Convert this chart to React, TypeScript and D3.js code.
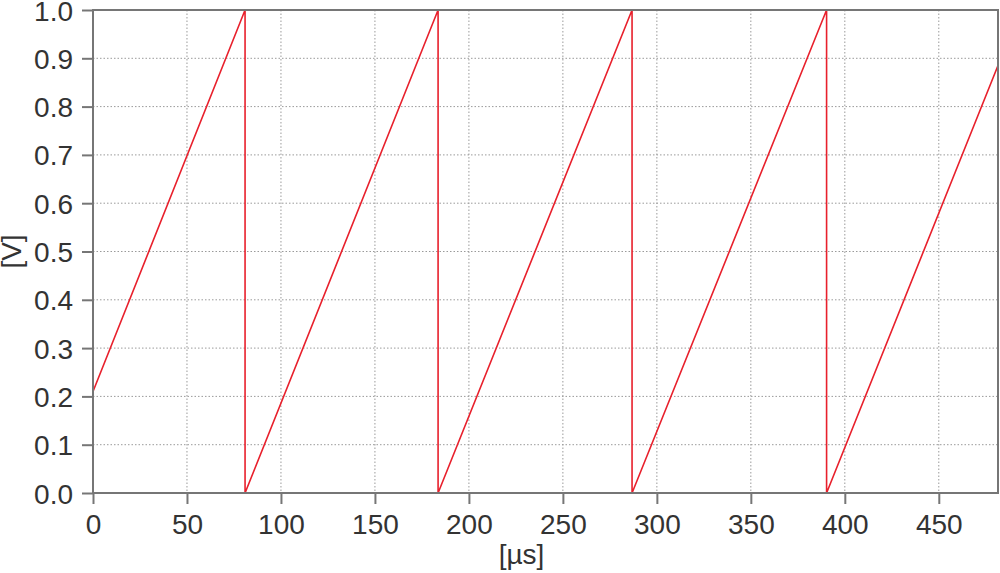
import { useEffect, useRef } from 'react';
import * as d3 from 'd3';

// sawtooth vertices
const times = [0, 80.9, 80.9, 183.6, 183.6, 286.8, 286.8, 390.3, 390.3, 481.5];
const volts = [0.21, 1.0, 0.0, 1.0, 0.0, 1.0, 0.0, 1.0, 0.0, 0.885];

const xTicks = [0, 50, 100, 150, 200, 250, 300, 350, 400, 450];
const yTicks = [0, 0.1, 0.2, 0.3, 0.4, 0.5, 0.6, 0.7, 0.8, 0.9, 1.0];

const xLabel = '[µs]';
const yLabel = '[V]';

const App = () => {
  const svgRef = useRef<SVGSVGElement>(null);

  useEffect(() => {
    const width = 1000;
    const height = 573;
    const margin = { top: 10, right: 2, bottom: 80, left: 93 };
    const w = width - margin.left - margin.right;
    const h = height - margin.top - margin.bottom;
    const font = '"Liberation Sans", Arial, sans-serif';

    d3.select(svgRef.current).selectAll('*').remove();

    const svg = d3.select(svgRef.current)
      .attr('width', width)
      .attr('height', height);

    const g = svg.append('g')
      .attr('transform', `translate(${margin.left},${margin.top})`);

    const x = d3.scaleLinear().domain([0, 481.5]).range([0, w]);
    const y = d3.scaleLinear().domain([0, 1]).range([h, 0]);

    // grid lines
    g.append('g')
      .selectAll('line')
      .data(xTicks.filter(d => d > 0))
      .enter()
      .append('line')
      .attr('x1', d => x(d))
      .attr('x2', d => x(d))
      .attr('y1', 0)
      .attr('y2', h)
      .attr('stroke', '#9a9a9a')
      .attr('stroke-width', 1)
      .attr('stroke-dasharray', '1.5,2');

    g.append('g')
      .selectAll('line')
      .data(yTicks.filter(d => d > 0 && d < 1))
      .enter()
      .append('line')
      .attr('x1', 0)
      .attr('x2', w)
      .attr('y1', d => y(d))
      .attr('y2', d => y(d))
      .attr('stroke', '#9a9a9a')
      .attr('stroke-width', 1)
      .attr('stroke-dasharray', '1.5,2');

    // the signal
    const pts = times.map((t, i) => [t, volts[i]] as [number, number]);
    const line = d3.line<[number, number]>()
      .x(d => x(d[0]))
      .y(d => y(d[1]));

    g.append('path')
      .datum(pts)
      .attr('d', line)
      .attr('fill', 'none')
      .attr('stroke', '#e8202c')
      .attr('stroke-width', 1.6);

    // frame
    g.append('rect')
      .attr('x', 0)
      .attr('y', 0)
      .attr('width', w)
      .attr('height', h)
      .attr('fill', 'none')
      .attr('stroke', '#767676')
      .attr('stroke-width', 2);

    // axes
    const xAxis = g.append('g')
      .attr('transform', `translate(0,${h})`)
      .call(d3.axisBottom(x).tickValues(xTicks).tickSize(11).tickPadding(10).tickFormat(d3.format('d')));
    const yAxis = g.append('g')
      .call(d3.axisLeft(y).tickValues(yTicks).tickSize(11).tickPadding(9).tickFormat(d3.format('.1f')));

    [xAxis, yAxis].forEach(a => {
      a.select('.domain').remove();
      a.selectAll('line').attr('stroke', '#767676').attr('stroke-width', 2);
      a.selectAll('text')
        .attr('fill', '#333')
        .attr('font-family', font)
        .attr('font-size', 28);
    });
    yAxis.selectAll('text').attr('dy', '0.36em');

    // axis titles
    svg.append('text')
      .attr('x', margin.left + x(228))
      .attr('y', 564)
      .attr('text-anchor', 'middle')
      .attr('font-family', font)
      .attr('font-size', 28)
      .attr('fill', '#333')
      .text(xLabel);

    svg.append('text')
      .attr('transform', `translate(21,${margin.top + y(0.5)}) rotate(-90)`)
      .attr('text-anchor', 'middle')
      .attr('font-family', font)
      .attr('font-size', 28)
      .attr('fill', '#333')
      .text(yLabel);
  }, []);

  return (
    <svg
      ref={svgRef}
      style={{ position: 'absolute', left: 0, top: 0, background: '#fff' }}
    ></svg>
  );
};

export default App;
